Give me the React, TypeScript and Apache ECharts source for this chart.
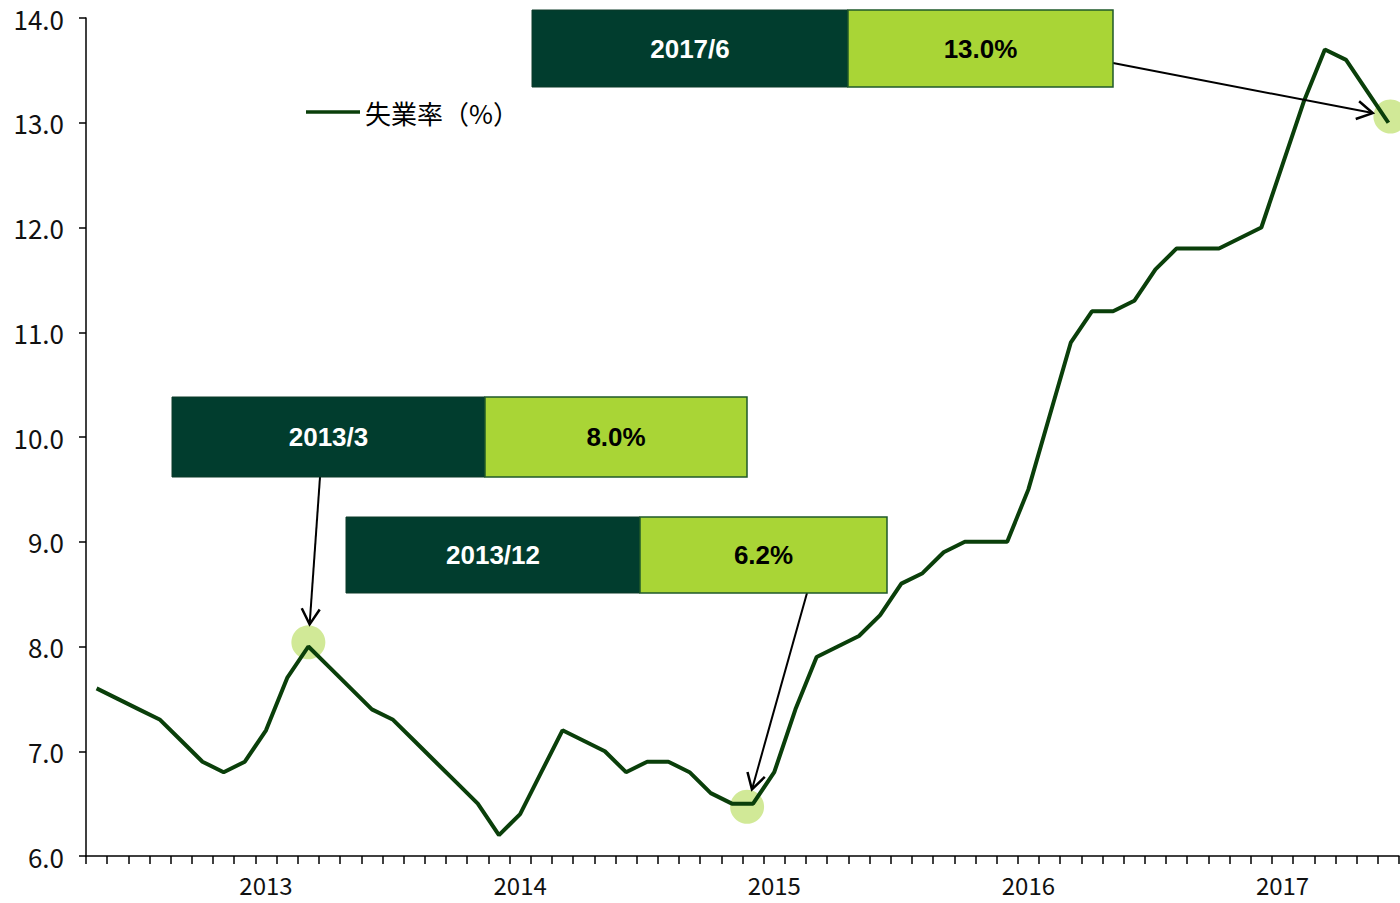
import React, { useEffect, useRef } from "react";
import * as echarts from "echarts";

const months = [
  "2012/5", "2012/6", "2012/7", "2012/8", "2012/9", "2012/10", "2012/11", "2012/12",
  "2013/1", "2013/2", "2013/3", "2013/4", "2013/5", "2013/6", "2013/7", "2013/8", "2013/9", "2013/10", "2013/11", "2013/12",
  "2014/1", "2014/2", "2014/3", "2014/4", "2014/5", "2014/6", "2014/7", "2014/8", "2014/9", "2014/10", "2014/11", "2014/12",
  "2015/1", "2015/2", "2015/3", "2015/4", "2015/5", "2015/6", "2015/7", "2015/8", "2015/9", "2015/10", "2015/11", "2015/12",
  "2016/1", "2016/2", "2016/3", "2016/4", "2016/5", "2016/6", "2016/7", "2016/8", "2016/9", "2016/10", "2016/11", "2016/12",
  "2017/1", "2017/2", "2017/3", "2017/4", "2017/5", "2017/6",
];

const rates = [
  7.6, 7.5, 7.4, 7.3, 7.1, 6.9, 6.8, 6.9,
  7.2, 7.7, 8.0, 7.8, 7.6, 7.4, 7.3, 7.1, 6.9, 6.7, 6.5, 6.2,
  6.4, 6.8, 7.2, 7.1, 7.0, 6.8, 6.9, 6.9, 6.8, 6.6, 6.5, 6.5,
  6.8, 7.4, 7.9, 8.0, 8.1, 8.3, 8.6, 8.7, 8.9, 9.0, 9.0, 9.0,
  9.5, 10.2, 10.9, 11.2, 11.2, 11.3, 11.6, 11.8, 11.8, 11.8, 11.9, 12.0,
  12.6, 13.2, 13.7, 13.6, 13.3, 13.0,
];

const seriesName = "失業率（%）";

// highlighted points (category, value the circle sits at)
const highlightMonths = ["2013/3", "2014/12", "2017/6"];
const highlightValues = [8.04, 6.47, 13.06];
const highlightXShift = [0, -6, 2];

// annotation boxes
const boxDates = ["2013/3", "2013/12", "2017/6"];
const boxValues = ["8.0%", "6.2%", "13.0%"];

const DARK = "#013d2e";
const LIGHT = "#a9d536";
const LINE = "#0a3f0a";
const CIRCLE = "#c6e47d";
const AXIS_FONT = "'Noto Sans CJK JP', 'Noto Sans', sans-serif";

export default function App() {
  const ref = useRef<HTMLDivElement>(null);

  useEffect(() => {
    if (!ref.current) return;
    const chart = echarts.init(ref.current, undefined, { renderer: "svg" });
    const R = 17;

    chart.setOption({
      animation: false,
      backgroundColor: "#ffffff",
      grid: { left: 86, right: 1, top: 18, bottom: 47 },
      legend: {
        data: [seriesName],
        left: 306,
        top: 99,
        padding: 0,
        icon: "rect",
        itemWidth: 54,
        itemHeight: 3.5,
        textStyle: { fontFamily: "'Noto Sans CJK JP', sans-serif", fontSize: 26, color: "#000" },
      },
      xAxis: {
        type: "category",
        data: months,
        boundaryGap: true,
        axisLine: { lineStyle: { color: "#000", width: 1.5 } },
        axisTick: { show: true, interval: 0, length: 8, alignWithLabel: false, lineStyle: { color: "#000", width: 1.5 } },
        axisLabel: {
          interval: (_i: number, v: string) => v.endsWith("/1"),
          formatter: (v: string) => v.split("/")[0],
          fontFamily: AXIS_FONT,
          fontSize: 24,
          color: "#111",
          margin: 16,
        },
        splitLine: { show: false },
      },
      yAxis: {
        type: "value",
        min: 6,
        max: 14,
        interval: 1,
        axisLine: { show: true, lineStyle: { color: "#000", width: 1.5 } },
        axisTick: { show: true, length: 7, lineStyle: { color: "#000", width: 1.5 } },
        axisLabel: {
          formatter: (v: number) => v.toFixed(1),
          fontFamily: AXIS_FONT,
          fontSize: 26,
          color: "#111",
          margin: 22,
        },
        splitLine: { show: false },
      },
      series: [
        {
          name: "highlight",
          type: "scatter",
          z: 1,
          symbol: "circle",
          symbolSize: R * 2,
          itemStyle: { color: CIRCLE },
          data: highlightMonths.map((m, i) => ({
            value: [m, highlightValues[i]],
            symbolOffset: [highlightXShift[i], 0],
          })),
          silent: true,
        },
        {
          name: seriesName,
          type: "line",
          z: 3,
          data: rates,
          showSymbol: false,
          symbol: "none",
          lineStyle: { color: LINE, width: 4 },
          itemStyle: { color: LINE },
        },
      ],
    });

    // annotation boxes with arrows
    const boxes = [
      { x: 172, y: 397, w1: 313, w2: 262, h: 80, ax: 320, ay: 477 },
      { x: 346, y: 517, w1: 294, w2: 247, h: 76, ax: 807, ay: 593 },
      { x: 532, y: 10, w1: 316, w2: 265, h: 77, ax: 1113, ay: 63 },
    ];
    const graphics: any[] = [];
    boxes.forEach((b, bi) => {
      graphics.push({
        type: "rect",
        shape: { x: b.x, y: b.y, width: b.w1, height: b.h },
        style: { fill: DARK, stroke: "#0d3a28", lineWidth: 1 },
        z: 10,
      });
      graphics.push({
        type: "rect",
        shape: { x: b.x + b.w1, y: b.y, width: b.w2, height: b.h },
        style: { fill: LIGHT, stroke: "#1f5a2a", lineWidth: 1.5 },
        z: 10,
      });
      graphics.push({
        type: "text",
        x: b.x + b.w1 / 2,
        y: b.y + b.h / 2,
        style: {
          text: boxDates[bi],
          fill: "#ffffff",
          font: "bold 26px 'Liberation Sans', Arial, sans-serif",
          align: "center",
          verticalAlign: "middle",
        },
        z: 11,
      });
      graphics.push({
        type: "text",
        x: b.x + b.w1 + b.w2 / 2,
        y: b.y + b.h / 2,
        style: {
          text: boxValues[bi],
          fill: "#000000",
          font: "bold 26px 'Liberation Sans', Arial, sans-serif",
          align: "center",
          verticalAlign: "middle",
        },
        z: 11,
      });
      // arrow to the highlighted circle
      const c = chart.convertToPixel({ gridIndex: 0 }, [highlightMonths[bi], highlightValues[bi]]) as number[];
      const cx = c[0] + highlightXShift[bi];
      const cy = c[1];
      const dx = cx - b.ax;
      const dy = cy - b.ay;
      const len = Math.sqrt(dx * dx + dy * dy);
      const ux = dx / len;
      const uy = dy / len;
      const tx = cx - ux * (R + 1);
      const ty = cy - uy * (R + 1);
      const hl = 18;
      const ang = Math.PI / 6;
      const bx = -ux, by = -uy;
      const h1 = [tx + hl * (bx * Math.cos(ang) - by * Math.sin(ang)), ty + hl * (bx * Math.sin(ang) + by * Math.cos(ang))];
      const h2 = [tx + hl * (bx * Math.cos(-ang) - by * Math.sin(-ang)), ty + hl * (bx * Math.sin(-ang) + by * Math.cos(-ang))];
      graphics.push({
        type: "line",
        shape: { x1: b.ax, y1: b.ay, x2: tx, y2: ty },
        style: { stroke: "#000", lineWidth: 2 },
        z: 9,
      });
      graphics.push({
        type: "polyline",
        shape: { points: [h1, [tx, ty], h2] },
        style: { stroke: "#000", lineWidth: 2.5, fill: null },
        z: 9,
      });
    });
    chart.setOption({ graphic: graphics });

    return () => chart.dispose();
  }, []);

  return (
    <div
      ref={ref}
      style={{ position: "absolute", left: 0, top: 0, width: 1400, height: 903, background: "#fff" }}
    />
  );
}
